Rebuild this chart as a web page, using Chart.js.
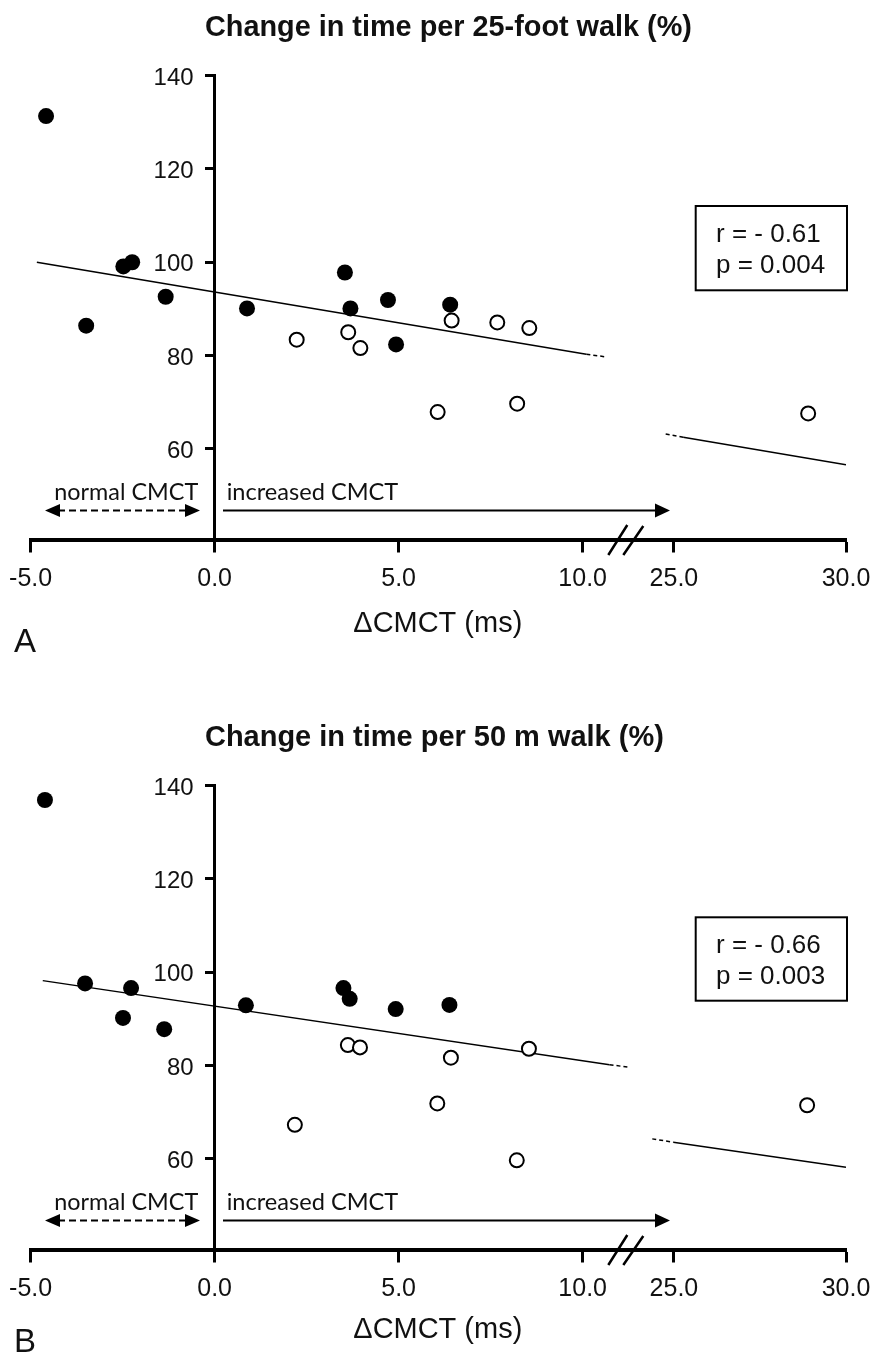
<!DOCTYPE html>
<html>
<head>
<meta charset="utf-8">
<script src="https://cdn.jsdelivr.net/npm/chart.js@4.4.1/dist/chart.umd.min.js"></script>
<style>
  body { margin: 0; background: #fff; }
  canvas { display: block; }
</style>
</head>
<body>
<canvas id="chartA" width="877" height="710"></canvas>
<canvas id="chartB" width="877" height="646"></canvas>
<script>
// x axis is broken between 10 and 25 ms
const xTickMs = [-5, 0, 5, 10, 25, 30];
const xTickLabels = ['-5.0', '0.0', '5.0', '10.0', '25.0', '30.0'];
const yTicks = [60, 80, 100, 120, 140];

// Panel A: 25-foot walk
const aFilledX = [-4.58, -3.49, -2.48, -2.24, -1.33, 0.88, 3.54, 3.69, 4.71, 4.93, 6.40];
const aFilledY = [131.3, 86.4, 99.1, 100.0, 92.6, 90.1, 97.8, 90.1, 91.9, 82.4, 90.9];
const aOpenX = [2.23, 3.63, 3.96, 6.44, 7.68, 8.55, 6.06, 8.22, 28.9];
const aOpenY = [83.4, 85.0, 81.6, 87.5, 87.1, 85.9, 67.9, 69.7, 67.6];
const aFitX = [-4.83, 10.1, 25.27, 30];
const aFitY = [100.0, 80.3, 62.5, 56.6];
const aFitDashX = [10.1, 10.65, 24.76, 25.27];
const aFitDashY = [80.3, 79.7, 63.2, 62.5];

// Panel B: 50 m walk
const bFilledX = [-4.61, -3.52, -2.27, -2.49, -1.37, 0.85, 3.50, 3.67, 4.92, 6.38];
const bFilledY = [136.9, 97.6, 96.6, 90.2, 87.8, 92.9, 96.6, 94.3, 92.1, 93.0];
const bOpenX = [3.62, 3.95, 6.42, 8.54, 6.05, 8.21, 28.87, 2.18];
const bOpenY = [84.4, 83.9, 81.7, 83.6, 71.9, 59.7, 71.5, 67.3];
const bFitX = [-4.67, 10.73, 24.98, 30];
const bFitY = [98.2, 80.2, 63.6, 58.2];
const bFitDashX = [10.73, 11.29, 24.37, 24.98];
const bFitDashY = [80.2, 79.6, 64.3, 63.6];

function toAxis(ms) {
  return ms < 20 ? ms : 12.48 + (ms - 25) * 0.935;
}

function pts(xs, ys) {
  return xs.map((x, i) => ({ x: toAxis(x), y: ys[i] }));
}

// two-point segments drawn separately
function segments(xs, ys, dashed) {
  const out = [];
  for (let i = 0; i < xs.length; i += 2) {
    out.push({
      type: 'line',
      data: pts(xs.slice(i, i + 2), ys.slice(i, i + 2)),
      borderColor: '#000',
      borderWidth: 1.5,
      borderDash: dashed ? [4, 3] : [],
      pointRadius: 0,
      showLine: true,
      order: 3
    });
  }
  return out;
}

function fitSize(ctx, text, font, width) {
  ctx.font = font.replace('SIZE', '100px');
  return 100 * width / ctx.measureText(text).width;
}

function arrowHead(ctx, tipX, y, dir, len, half) {
  ctx.beginPath();
  ctx.moveTo(tipX, y);
  ctx.lineTo(tipX - dir * len, y - half);
  ctx.lineTo(tipX - dir * len, y + half);
  ctx.closePath();
  ctx.fill();
}

const decorations = {
  id: 'decorations',
  afterDraw(chart, args, o) {
    const ctx = chart.ctx;
    const xs = chart.scales.x, ys = chart.scales.y;
    ctx.save();
    ctx.fillStyle = '#111';
    ctx.strokeStyle = '#000';

    // y tick labels, left of the y axis at x = 0
    ctx.font = '24px "Liberation Sans", Arial, sans-serif';
    ctx.textAlign = 'right';
    ctx.textBaseline = 'middle';
    const axisX = xs.getPixelForValue(0);
    yTicks.forEach(v => ctx.fillText(String(v), axisX - 21, ys.getPixelForValue(v) + 2.5));

    ctx.textBaseline = 'alphabetic';
    ctx.textAlign = 'left';

    // title
    let s = fitSize(ctx, o.title, 'bold SIZE "Liberation Sans", Arial, sans-serif', o.titleWidth);
    ctx.font = 'bold ' + s + 'px "Liberation Sans", Arial, sans-serif';
    ctx.fillText(o.title, 205, 25.3 + s * 0.358);

    // axis title
    s = fitSize(ctx, 'ΔCMCT (ms)', 'SIZE "Liberation Sans", Arial, sans-serif', 169);
    ctx.font = s + 'px "Liberation Sans", Arial, sans-serif';
    ctx.fillText('ΔCMCT (ms)', 353.3, o.axisBase);

    // panel letter
    ctx.font = '33px "Liberation Sans", Arial, sans-serif';
    ctx.fillText(o.letter, 14, o.letterBase);

    // CMCT range labels
    s = fitSize(ctx, 'normal CMCT', 'SIZE Lato, sans-serif', 144);
    ctx.font = s + 'px Lato, sans-serif';
    ctx.fillText('normal CMCT', 54.3, 500);
    s = fitSize(ctx, 'increased CMCT', 'SIZE Lato, sans-serif', 171.6);
    ctx.font = s + 'px Lato, sans-serif';
    ctx.fillText('increased CMCT', 226.7, 500);

    // arrows
    ctx.fillStyle = '#000';
    ctx.lineWidth = 2;
    ctx.setLineDash([7, 4]);
    ctx.beginPath();
    ctx.moveTo(58, 510.5);
    ctx.lineTo(188, 510.5);
    ctx.stroke();
    ctx.setLineDash([]);
    arrowHead(ctx, 45, 510.5, -1, 15, 6.5);
    arrowHead(ctx, 200, 510.5, 1, 15, 6.5);
    ctx.beginPath();
    ctx.moveTo(223, 510.5);
    ctx.lineTo(658, 510.5);
    ctx.stroke();
    arrowHead(ctx, 670, 510.5, 1, 15, 7);

    // axis break
    ctx.lineWidth = 2.5;
    ctx.beginPath();
    ctx.moveTo(608.3, 555); ctx.lineTo(627.3, 525);
    ctx.moveTo(623.3, 555); ctx.lineTo(643.3, 526);
    ctx.stroke();

    // stats box
    ctx.lineWidth = 2;
    ctx.strokeRect(o.box[0], o.box[1], o.box[2], o.box[3]);
    ctx.fillStyle = '#111';
    ctx.font = '26px "Liberation Sans", Arial, sans-serif';
    ctx.fillText(o.r, 716, o.statBase[0]);
    ctx.fillText(o.p, 716, o.statBase[1]);
    ctx.restore();
  }
};

function makeChart(id, filledX, filledY, openX, openY, fitX, fitY, dashX, dashY, deco, height) {
  return new Chart(document.getElementById(id), {
    type: 'scatter',
    data: {
      datasets: [
        {
          data: pts(filledX, filledY),
          pointRadius: 8,
          pointBackgroundColor: '#000',
          pointBorderWidth: 0,
          order: 1
        },
        {
          data: pts(openX, openY),
          pointRadius: 7,
          pointBackgroundColor: '#fff',
          pointBorderColor: '#000',
          pointBorderWidth: 2,
          order: 2
        }
      ].concat(segments(fitX, fitY, false), segments(dashX, dashY, true))
    },
    options: {
      responsive: false,
      animation: false,
      layout: { padding: { left: 30.6, right: 31, top: 75.5, bottom: 0 } },
      plugins: {
        legend: { display: false },
        tooltip: { enabled: false },
        decorations: deco
      },
      scales: {
        x: {
          type: 'linear',
          min: -5,
          max: toAxis(30),
          afterBuildTicks: sc => { sc.ticks = xTickMs.map(v => ({ value: toAxis(v) })); },
          afterFit: sc => {
            sc.height = height - 539.5;
            sc.paddingLeft = 0;
            sc.paddingRight = 0;
          },
          ticks: {
            autoSkip: false,
            maxRotation: 0,
            padding: 12,
            color: '#111',
            font: { family: '"Liberation Sans", Arial, sans-serif', size: 25 },
            callback: (v, i) => xTickLabels[i]
          },
          grid: { drawOnChartArea: false, tickLength: 13, tickWidth: 3, tickColor: '#000' },
          border: { display: true, color: '#000', width: 4 }
        },
        y: {
          type: 'linear',
          position: { x: 0 },
          min: 40.6,
          max: 140,
          afterBuildTicks: sc => { sc.ticks = yTicks.map(v => ({ value: v })); },
          ticks: { display: false },
          grid: { drawOnChartArea: false, tickLength: 8, tickWidth: 3, tickColor: '#000' },
          border: { display: true, color: '#000', width: 3 }
        }
      }
    },
    plugins: [decorations]
  });
}

makeChart('chartA', aFilledX, aFilledY, aOpenX, aOpenY, aFitX, aFitY, aFitDashX, aFitDashY, {
  title: 'Change in time per 25-foot walk (%)', titleWidth: 487,
  r: 'r = - 0.61', p: 'p = 0.004',
  box: [695.7, 206, 151.3, 84.3], statBase: [241.7, 273.3],
  letter: 'A', letterBase: 651.7, axisBase: 631.7
}, 710);

makeChart('chartB', bFilledX, bFilledY, bOpenX, bOpenY, bFitX, bFitY, bFitDashX, bFitDashY, {
  title: 'Change in time per 50 m walk (%)', titleWidth: 459,
  r: 'r = - 0.66', p: 'p = 0.003',
  box: [695.7, 207.3, 151.3, 83.4], statBase: [242.7, 274],
  letter: 'B', letterBase: 642, axisBase: 628.4
}, 646);
</script>
</body>
</html>
